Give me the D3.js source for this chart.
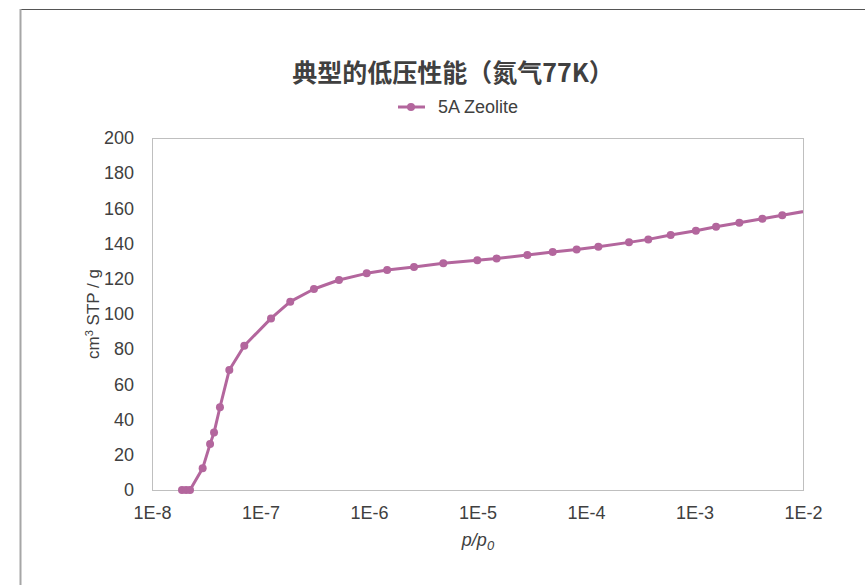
<!DOCTYPE html>
<html>
<head>
<meta charset="utf-8">
<script src="https://cdn.jsdelivr.net/npm/d3@7"></script>
<style>
  body { margin: 0; background: #fff; }
  svg text { font-family: "Liberation Sans", Arial, sans-serif; fill: #404040; }
</style>
</head>
<body>
<div id="chart"></div>
<script>
// 5A Zeolite, N2 at 77K
const pressure = [1.89e-8, 2.06e-8, 2.24e-8, 2.93e-8, 3.43e-8, 3.73e-8, 4.23e-8, 5.16e-8, 7.09e-8,
  1.25e-7, 1.88e-7, 3.11e-7, 5.29e-7, 9.52e-7, 1.47e-6, 2.6e-6, 4.84e-6, 9.96e-6, 1.5e-5,
  2.88e-5, 4.93e-5, 8.2e-5, 1.3e-4, 2.49e-4, 3.75e-4, 6.03e-4, 1.03e-3, 1.58e-3, 2.59e-3,
  4.22e-3, 6.44e-3, 1.58e-2]
const uptake = [0, 0, 0, 12.3, 26.1, 32.6, 47.0, 68.2, 82.0,
  97.5, 107.0, 114.2, 119.3, 123.1, 125.0, 126.7, 128.8, 130.5, 131.6,
  133.5, 135.2, 136.7, 138.2, 140.7, 142.4, 144.9, 147.3, 149.6, 151.9,
  154.1, 156.1, 160.3]
const xTicks = [1e-8, 1e-7, 1e-6, 1e-5, 1e-4, 1e-3, 1e-2]
const yTicks = [0, 20, 40, 60, 80, 100, 120, 140, 160, 180, 200]
const seriesName = '5A Zeolite'
const color = '#b3669d'

const datas = pressure.map((p, i) => ({ p: p, v: uptake[i] }))

const W = 865, H = 585
const plot = { left: 152, top: 138, right: 803, bottom: 490 }

const svg = d3.select('#chart').append('svg')
  .attr('width', W)
  .attr('height', H)

// outer frame
svg.append('line')
  .attr('x1', 20).attr('x2', W).attr('y1', 9.5).attr('y2', 9.5)
  .attr('stroke', '#555').attr('stroke-width', 1)
svg.append('line')
  .attr('x1', 20.5).attr('x2', 20.5).attr('y1', 9).attr('y2', H)
  .attr('stroke', '#a6a6a6').attr('stroke-width', 2)

const xScale = d3.scaleLog()
  .domain([1e-8, 1e-2])
  .range([plot.left, plot.right])

const yScale = d3.scaleLinear()
  .domain([0, 200])
  .range([plot.bottom, plot.top])

// plot border
svg.append('rect')
  .attr('x', plot.left + 0.5)
  .attr('y', plot.top + 0.5)
  .attr('width', plot.right - plot.left)
  .attr('height', plot.bottom - plot.top)
  .attr('fill', 'none')
  .attr('stroke', '#bfbfbf')

// axes
svg.append('g')
  .attr('class', 'axis')
  .attr('transform', `translate(0,${plot.bottom})`)
  .call(d3.axisBottom(xScale).tickValues(xTicks).tickSize(0).tickPadding(16)
    .tickFormat(d => '1E' + Math.round(Math.log10(d))))
  .call(g => g.select('.domain').remove())

svg.append('g')
  .attr('class', 'axis')
  .attr('transform', `translate(${plot.left},0)`)
  .call(d3.axisLeft(yScale).tickValues(yTicks).tickSize(0).tickPadding(18))
  .call(g => g.select('.domain').remove())

svg.selectAll('.axis text')
  .attr('fill', '#404040')
  .style('font-size', '18px')
  .style('font-family', '"Liberation Sans", Arial, sans-serif')

// data clipped to plot area
svg.append('clipPath').attr('id', 'clip')
  .append('rect')
  .attr('x', plot.left).attr('y', plot.top - 10)
  .attr('width', plot.right - plot.left).attr('height', plot.bottom - plot.top + 20)

const g = svg.append('g').attr('clip-path', 'url(#clip)')

const line = d3.line()
  .x(d => xScale(d.p))
  .y(d => yScale(d.v))

g.append('path')
  .datum(datas)
  .attr('d', line)
  .attr('fill', 'none')
  .attr('stroke', color)
  .attr('stroke-width', 3)
  .attr('stroke-linejoin', 'round')

g.selectAll('circle')
  .data(datas)
  .enter()
  .append('circle')
  .attr('cx', d => xScale(d.p))
  .attr('cy', d => yScale(d.v))
  .attr('r', 4)
  .attr('fill', color)

// title
svg.append('text')
  .attr('x', 453)
  .attr('y', 82)
  .attr('text-anchor', 'middle')
  .style('font-family', '"Noto Sans CJK SC", sans-serif')
  .style('font-size', '25px')
  .style('font-weight', 'bold')
  .text('典型的低压性能（氮气77K）')

// legend
const legend = svg.append('g')
legend.append('line')
  .attr('x1', 398).attr('x2', 425).attr('y1', 107).attr('y2', 107)
  .attr('stroke', color).attr('stroke-width', 3)
legend.append('circle')
  .attr('cx', 411).attr('cy', 107).attr('r', 4).attr('fill', color)
legend.append('text')
  .attr('x', 438).attr('y', 113)
  .style('font-size', '18px')
  .text(seriesName)

// x axis title
const xt = svg.append('text')
  .attr('x', 478)
  .attr('y', 546)
  .attr('text-anchor', 'middle')
  .style('font-size', '18px')
  .style('font-style', 'italic')
xt.append('tspan').text('p/p')
xt.append('tspan').attr('dy', 4).style('font-size', '13px').text('0')

// y axis title
const yt = svg.append('text')
  .attr('transform', `translate(99,${(plot.top + plot.bottom) / 2}) rotate(-90)`)
  .attr('text-anchor', 'middle')
  .style('font-size', '17px')
yt.append('tspan').text('cm')
yt.append('tspan').attr('dy', -6).style('font-size', '11px').text('3')
yt.append('tspan').attr('dy', 6).text(' STP / g')
</script>
</body>
</html>
